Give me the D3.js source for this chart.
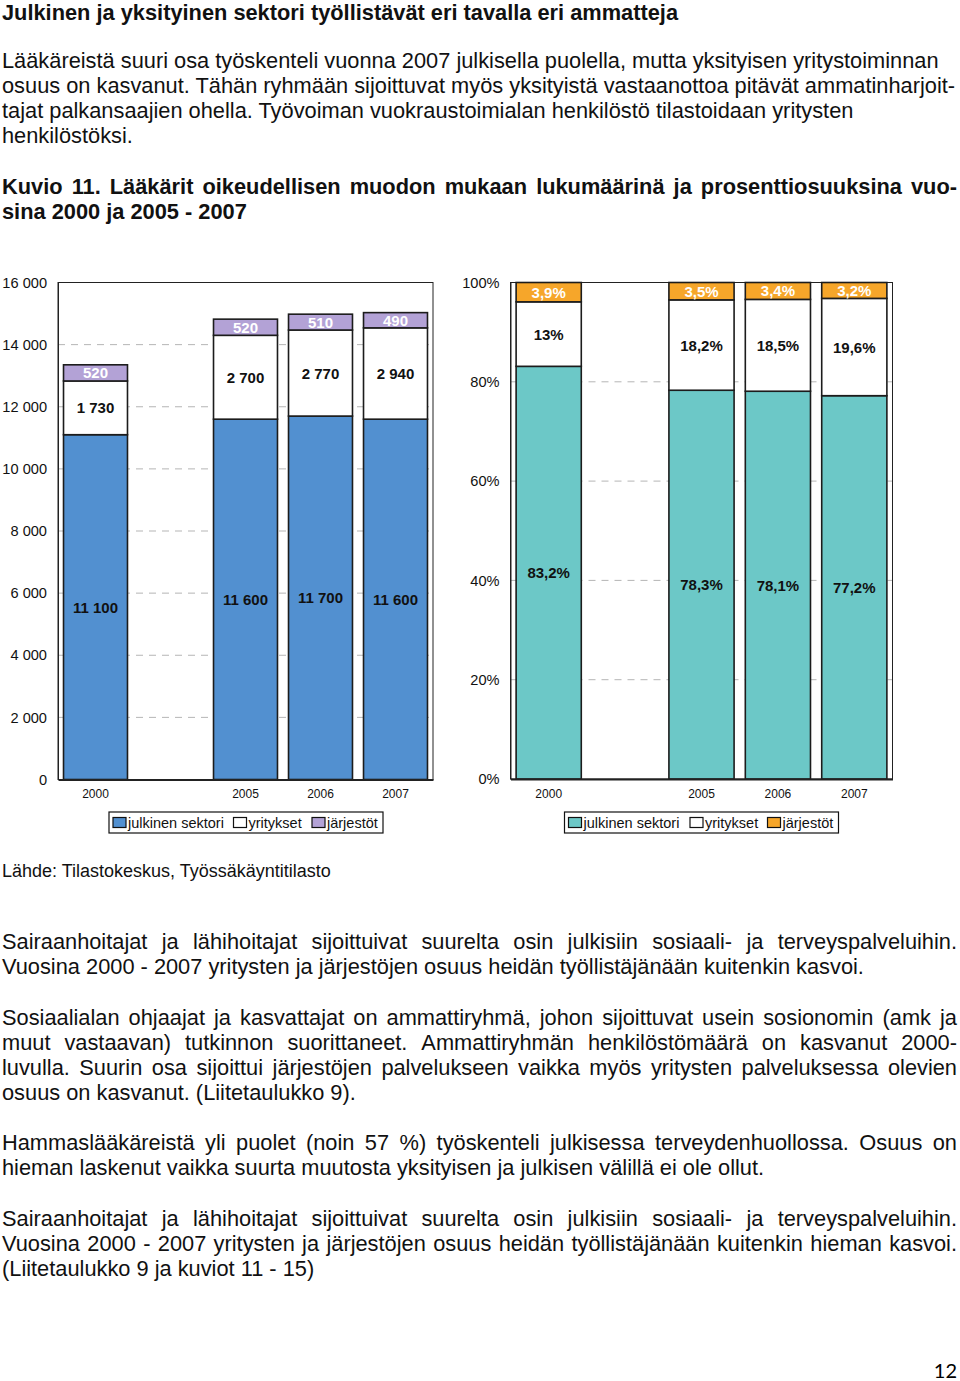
<!DOCTYPE html>
<html>
<head>
<meta charset="utf-8">
<script src="https://cdn.jsdelivr.net/npm/d3@7"></script>
<style>
  html, body { margin: 0; padding: 0; background: #fff; }
  svg { display: block; font-family: "Liberation Sans", Arial, Helvetica, sans-serif; }
</style>
</head>
<body>
<svg id="page" width="960" height="1381"></svg>
<script>
// ---------- DATA ----------
const categories = ["2000", "", "2005", "2006", "2007"];
const years = ["2000", "2005", "2006", "2007"];
const seriesNames = ["julkinen sektori", "yritykset", "järjestöt"];

const countPublic  = [11100, 11600, 11700, 11600];
const countPrivate = [1730, 2700, 2770, 2940];
const countOrg     = [520, 520, 510, 490];

const sharePublic  = [83.2, 78.3, 78.1, 77.2];
const sharePrivate = [13, 18.2, 18.5, 19.6];
const shareOrg     = [3.9, 3.5, 3.4, 3.2];

const countTicks = [0, 2000, 4000, 6000, 8000, 10000, 12000, 14000, 16000];
const shareTicks = [0, 20, 40, 60, 80, 100];

const titleText = "Julkinen ja yksityinen sektori työllistävät eri tavalla eri ammatteja";
const introLines = [
  "Lääkäreistä suuri osa työskenteli vuonna 2007 julkisella puolella, mutta yksityisen yritystoiminnan",
  "osuus on kasvanut. Tähän ryhmään sijoittuvat myös yksityistä vastaanottoa pitävät ammatinharjoit-",
  "tajat palkansaajien ohella. Työvoiman vuokraustoimialan henkilöstö tilastoidaan yritysten",
  "henkilöstöksi."
];
const figLines = [
  "Kuvio 11. Lääkärit oikeudellisen muodon mukaan lukumäärinä ja prosenttiosuuksina vuo-",
  "sina 2000 ja 2005 - 2007"
];
const sourceText = "Lähde: Tilastokeskus, Työssäkäyntitilasto";
// [text, justified]
const paragraphs = [
  [["Sairaanhoitajat ja lähihoitajat sijoittuivat suurelta osin julkisiin sosiaali- ja terveyspalveluihin.", true],
   ["Vuosina 2000 - 2007 yritysten ja järjestöjen osuus heidän työllistäjänään kuitenkin kasvoi.", false]],
  [["Sosiaalialan ohjaajat ja kasvattajat on ammattiryhmä, johon sijoittuvat usein sosionomin (amk ja", true],
   ["muut vastaavan) tutkinnon suorittaneet. Ammattiryhmän henkilöstömäärä on kasvanut 2000-", true],
   ["luvulla. Suurin osa sijoittui järjestöjen palvelukseen vaikka myös yritysten palveluksessa olevien", true],
   ["osuus on kasvanut. (Liitetaulukko 9).", false]],
  [["Hammaslääkäreistä yli puolet (noin 57 %) työskenteli julkisessa terveydenhuollossa. Osuus on", true],
   ["hieman laskenut vaikka suurta muutosta yksityisen ja julkisen välillä ei ole ollut.", false]],
  [["Sairaanhoitajat ja lähihoitajat sijoittuivat suurelta osin julkisiin sosiaali- ja terveyspalveluihin.", true],
   ["Vuosina 2000 - 2007 yritysten ja järjestöjen osuus heidän työllistäjänään kuitenkin hieman kasvoi.", true],
   ["(Liitetaulukko 9 ja kuviot 11 - 15)", false]]
];
const pageNumber = "12";

// ---------- STYLE ----------
const colBlue = "#5290d0", colTeal = "#6cc8c7", colOrange = "#f6a62a", colPurple = "#b3a2d6";
const svg = d3.select("#page");
const fmtCount = d3.formatLocale({decimal: ",", thousands: " ", grouping: [3], currency: ["", ""]}).format(",d");
const fmtPct = v => String(v).replace(".", ",") + "%";
const BODY = 21.8;

// text line helper; justify = spread words across [x, x+width]
function textLine(str, x, y, size, bold, justify, width) {
  const t = svg.append("text").attr("y", y).attr("font-size", size).attr("fill", "#111");
  if (bold) t.attr("font-weight", "bold");
  if (!justify) { t.attr("x", x).text(str); return t; }
  const words = str.split(" ");
  const spans = words.map(w => t.append("tspan").attr("x", x).text(w));
  const widths = spans.map(s => s.node().getComputedTextLength());
  const total = d3.sum(widths);
  const gap = (width - total) / (words.length - 1);
  let cx = x;
  spans.forEach((s, i) => { s.attr("x", cx); cx += widths[i] + gap; });
  return t;
}

// ---------- TEXT ----------
textLine(titleText, 2, 20, BODY, true, false);
introLines.forEach((t, i) => textLine(t, 2, 68 + i * 25, BODY, false, false));
figLines.forEach((t, i) => textLine(t, 2, 194 + i * 25, BODY, true, i === 0, 955));
svg.append("text").attr("x", 2).attr("y", 877).attr("font-size", 18).attr("fill", "#111").text(sourceText);

const paraStarts = [949, 1025, 1150, 1226];
paragraphs.forEach((p, pi) => {
  p.forEach(([t, just], li) => textLine(t, 2, paraStarts[pi] + li * 25, BODY, false, just, 955));
});
svg.append("text").attr("x", 957).attr("y", 1378).attr("text-anchor", "end")
  .attr("font-family", "Lato, 'Open Sans', sans-serif").attr("font-size", 20).text(pageNumber);

// ---------- CHART FUNCTION ----------
function drawChart(opt) {
  const g = svg.append("g");
  const x = d3.scaleBand().domain(categories).range([opt.x0, opt.x1]).paddingInner(0.147).paddingOuter(0.0735);
  const y = d3.scaleLinear().domain([0, opt.max]).range([opt.yb, opt.yt]);

  // gridlines
  g.append("g").selectAll("line").data(opt.ticks.filter(t => t > 0 && t < opt.max)).join("line")
    .attr("x1", opt.x0).attr("x2", opt.x1).attr("y1", d => y(d)).attr("y2", d => y(d))
    .attr("stroke", "#b5b5b5").attr("stroke-width", 1).attr("stroke-dasharray", "7,6");

  // frame
  g.append("rect").attr("x", opt.x0).attr("y", opt.yt).attr("width", opt.x1 - opt.x0).attr("height", opt.yb - opt.yt)
    .attr("fill", "none").attr("stroke", "#222").attr("stroke-width", 1);

  // stacked data
  const rows = years.map((yr, i) => ({year: yr, a: opt.s[0][i], b: opt.s[1][i], c: opt.s[2][i]}));
  const stack = d3.stack().keys(["a", "b", "c"]);
  if (opt.expand) stack.offset(d3.stackOffsetExpand);
  const layers = stack(rows);
  const scaleVal = opt.expand ? 100 : 1;
  const fills = [opt.c0, "#ffffff", opt.c2];

  layers.forEach((layer, li) => {
    g.append("g").selectAll("rect").data(layer).join("rect")
      .attr("x", d => x(d.data.year)).attr("width", x.bandwidth())
      .attr("y", d => y(d[1] * scaleVal)).attr("height", d => y(d[0] * scaleVal) - y(d[1] * scaleVal))
      .attr("fill", fills[li]).attr("stroke", "#1c1c1c").attr("stroke-width", 1.6);
  });
  layers.forEach((layer, li) => {
    g.append("g").selectAll("text").data(layer).join("text")
      .attr("x", d => x(d.data.year) + x.bandwidth() / 2)
      .attr("y", d => (y(d[0] * scaleVal) + y(d[1] * scaleVal)) / 2)
      .attr("text-anchor", "middle").attr("dominant-baseline", "central")
      .attr("font-size", 15).attr("font-weight", "bold")
      .attr("fill", li === 2 ? "#ffffff" : "#111")
      .text(d => opt.fmt(d.data[["a", "b", "c"][li]]));
  });

  // axes
  const ya = g.append("g").attr("transform", `translate(${opt.x0},0)`)
    .call(d3.axisLeft(y).tickValues(opt.ticks).tickSize(0).tickPadding(11).tickFormat(opt.tickFmt));
  ya.select(".domain").attr("stroke", "#222");
  ya.selectAll("text").attr("font-size", 14.6).attr("font-family", "Liberation Sans, Arial, sans-serif").attr("fill", "#111");

  const xa = g.append("g").attr("transform", `translate(0,${opt.yb})`)
    .call(d3.axisBottom(x).tickSize(0).tickPadding(10));
  xa.select(".domain").attr("stroke", "#222").attr("stroke-width", 2);
  xa.selectAll("text").attr("font-size", 12).attr("font-family", "Liberation Sans, Arial, sans-serif").attr("fill", "#111");

  // legend
  const lgd = g.append("g");
  lgd.append("rect").attr("x", opt.lx).attr("y", 812).attr("width", opt.lw).attr("height", 21)
    .attr("fill", "#fff").attr("stroke", "#111").attr("stroke-width", 1.2);
  const legendCols = [opt.c0, "#ffffff", opt.c2];
  seriesNames.forEach((n, i) => {
    lgd.append("rect").attr("x", opt.lsw[i]).attr("y", 817.5).attr("width", 13).attr("height", 10)
      .attr("fill", legendCols[i]).attr("stroke", "#111").attr("stroke-width", 1.2);
    lgd.append("text").attr("x", opt.lsw[i] + 15).attr("y", 827.5).attr("font-size", 14.5).attr("fill", "#111").text(n);
  });
}

drawChart({
  x0: 58, x1: 433, yt: 282.5, yb: 779.5, max: 16000, ticks: countTicks,
  s: [countPublic, countPrivate, countOrg], expand: false,
  c0: colBlue, c2: colPurple, fmt: fmtCount, tickFmt: fmtCount,
  lx: 109, lw: 274, lsw: [113, 233.5, 312]
});
drawChart({
  x0: 510.5, x1: 892.5, yt: 282.5, yb: 779, max: 100, ticks: shareTicks,
  s: [sharePublic, sharePrivate, shareOrg], expand: true,
  c0: colTeal, c2: colOrange, fmt: fmtPct, tickFmt: d => d + "%",
  lx: 564.5, lw: 274, lsw: [568.5, 690, 767.5]
});
</script>
</body>
</html>
